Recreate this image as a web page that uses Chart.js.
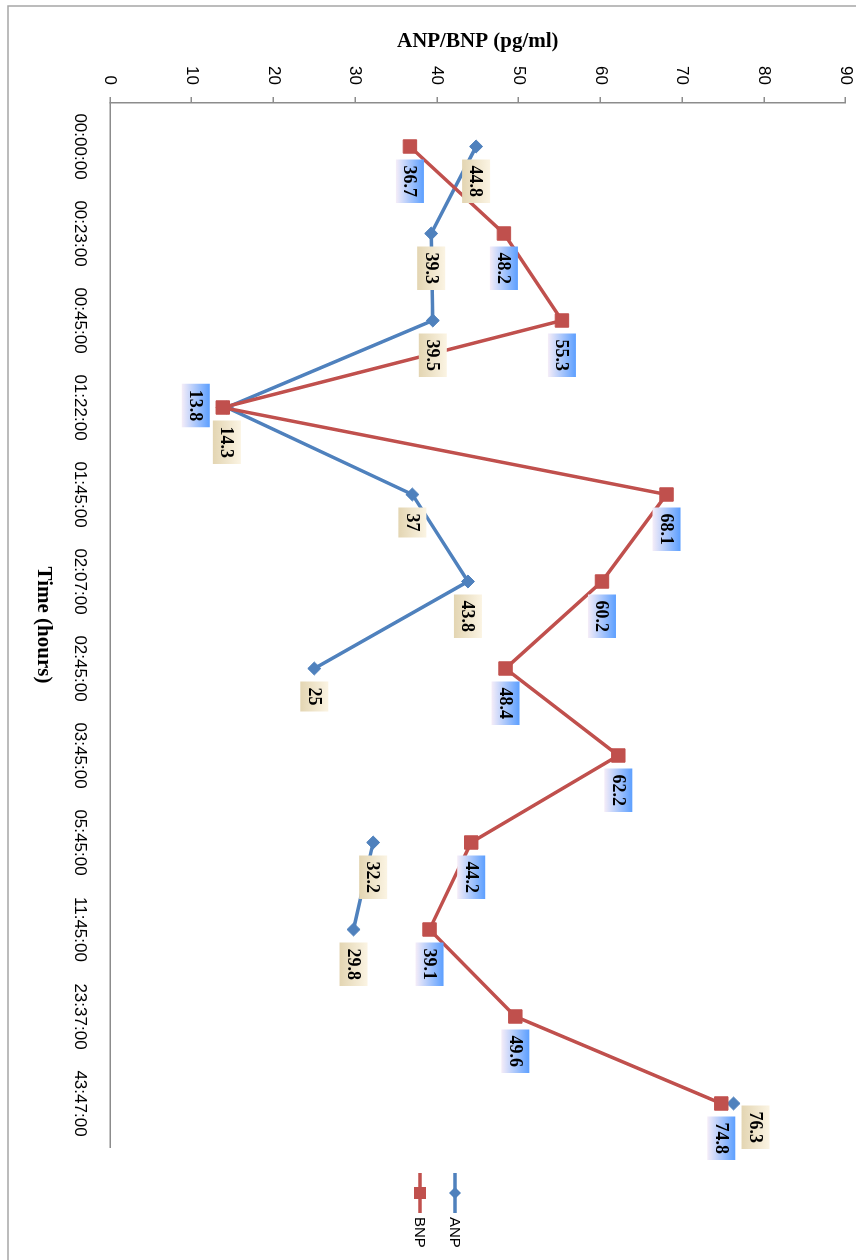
<!DOCTYPE html>
<html>
<head>
<meta charset="utf-8">
<script src="https://cdn.jsdelivr.net/npm/chart.js@4/dist/chart.umd.min.js"></script>
<style>
  html, body { margin: 0; padding: 0; background: #fff; overflow: hidden; }
  /* the chart is drawn landscape, then turned a quarter clockwise */
  #wrap { position: absolute; left: 0; top: 0; width: 1260px; height: 856px;
          transform-origin: 0 0; transform: translate(856px, 0) rotate(90deg); }
</style>
</head>
<body>
<div id="wrap"><canvas id="chart" width="1260" height="856"></canvas></div>
<script>
var times = ["00:00:00", "00:23:00", "00:45:00", "01:22:00", "01:45:00", "02:07:00",
             "02:45:00", "03:45:00", "05:45:00", "11:45:00", "23:37:00", "43:47:00"];
var anpValues = [44.8, 39.3, 39.5, 14.3, 37, 43.8, 25, null, 32.2, 29.8, null, 76.3];
var bnpValues = [36.7, 48.2, 55.3, 13.8, 68.1, 60.2, 48.4, 62.2, 44.2, 39.1, 49.6, 74.8];
var valueTicks = [0, 10, 20, 30, 40, 50, 60, 70, 80, 90];

var labelFill = {
    ANP: ["#fbf4e3", "#e3d5b2"],
    BNP: ["#5c9fff", "#f5edf8"]
};

var frameBorder = {
    id: "frameBorder",
    beforeDraw: function(chart) {
        var ctx = chart.ctx;
        ctx.save();
        ctx.fillStyle = "#ffffff";
        ctx.fillRect(0, 0, chart.width, chart.height);
        ctx.strokeStyle = "#a6a6a6";
        ctx.lineWidth = 1.5;
        ctx.beginPath();
        ctx.moveTo(6, 0);
        ctx.lineTo(6, 848);
        ctx.lineTo(chart.width, 848);
        ctx.stroke();
        ctx.restore();
    }
};

var valueLabels = {
    id: "valueLabels",
    afterDatasetsDraw: function(chart) {
        var ctx = chart.ctx;
        ctx.save();
        ctx.font = 'bold 18px "Liberation Serif"';
        ctx.textAlign = "center";
        ctx.textBaseline = "middle";
        chart.data.datasets.forEach(function(ds, i) {
            var meta = chart.getDatasetMeta(i);
            meta.data.forEach(function(pt, j) {
                var v = ds.data[j];
                if (v === null) return;
                var text = String(v);
                var w = ctx.measureText(text).width + 12;
                var h = 28;
                var bx = pt.x + 13;
                var by = pt.y - h / 2;
                // two labels were moved by hand in the original
                if (ds.label === "BNP" && j === 3) { bx = pt.x - w / 2 - 2; by = pt.y + 13; }
                if (ds.label === "ANP" && j === 11) { bx = pt.x + 2; by = pt.y - 22 - h / 2; }
                var g = ctx.createLinearGradient(0, by, 0, by + h);
                g.addColorStop(0, labelFill[ds.label][0]);
                g.addColorStop(1, labelFill[ds.label][1]);
                ctx.fillStyle = g;
                ctx.fillRect(bx, by, w, h);
                ctx.fillStyle = "#000";
                ctx.fillText(text, bx + w / 2, by + h / 2 + 1);
            });
        });
        ctx.restore();
    }
};

var legendBox = {
    id: "legendBox",
    afterDraw: function(chart) {
        var ctx = chart.ctx;
        var x0 = chart.chartArea.right + 26;
        chart.data.datasets.forEach(function(ds, i) {
            var y = 401 + i * 35;
            ctx.save();
            ctx.strokeStyle = ds.borderColor;
            ctx.lineWidth = 3.5;
            ctx.beginPath();
            ctx.moveTo(x0, y);
            ctx.lineTo(x0 + 40, y);
            ctx.stroke();
            ctx.fillStyle = ds.borderColor;
            ctx.beginPath();
            if (ds.pointStyle === "rect") {
                ctx.rect(x0 + 14, y - 6, 12, 12);
            } else {
                ctx.moveTo(x0 + 14, y);
                ctx.lineTo(x0 + 20, y - 6);
                ctx.lineTo(x0 + 26, y);
                ctx.lineTo(x0 + 20, y + 6);
                ctx.closePath();
            }
            ctx.fill();
            ctx.fillStyle = "#000";
            ctx.font = '15px "Liberation Sans"';
            ctx.textAlign = "left";
            ctx.textBaseline = "middle";
            ctx.fillText(ds.label, x0 + 44, y + 1);
            ctx.restore();
        });
    }
};

new Chart(document.getElementById("chart"), {
    type: "line",
    data: {
        labels: times,
        datasets: [
            {
            label: "ANP",
            data: anpValues,
            order: 1,
            borderColor: "#4f81bd",
            backgroundColor: "#4f81bd",
            borderWidth: 3.5,
            pointStyle: "rectRot",
            pointRadius: 6.5,
            pointBorderWidth: 1,
            tension: 0,
            spanGaps: false
            },
            {
            label: "BNP",
            data: bnpValues,
            order: 0,
            borderColor: "#c0504d",
            backgroundColor: "#c0504d",
            borderWidth: 3.5,
            pointStyle: "rect",
            pointRadius: 9.5,
            pointBorderWidth: 1,
            tension: 0
            }
        ]
    },
    options: {
        responsive: false,
        animation: false,
        devicePixelRatio: 1,
        layout: { padding: { left: 0, top: 9, right: 113, bottom: 0 } },
        plugins: {
            legend: { display: false },
            tooltip: { enabled: false }
        },
        scales: {
            x: {
                offset: true,
                grid: { display: false, drawTicks: false },
                border: { display: true, color: "#8c8c8c", width: 1.5 },
                ticks: {
                    font: { family: "Liberation Sans", size: 17 },
                    color: "#000",
                    padding: 20,
                    maxRotation: 0,
                    autoSkip: false
                },
                title: {
                    display: true,
                    text: "Time (hours)",
                    font: { family: "Liberation Serif", size: 21, weight: "bold", lineHeight: 1.2 },
                    color: "#000",
                    padding: { top: 0, bottom: 31 }
                },
                afterFit: function(scale) {
                    scale.height = 110;
                    scale.paddingLeft = 0;
                    scale.paddingRight = 0;
                }
            },
            y: {
                min: 0,
                max: 90,
                afterBuildTicks: function(scale) {
                    scale.ticks = valueTicks.map(function(v) { return { value: v }; });
                },
                grid: {
                    display: true,
                    drawOnChartArea: false,
                    drawTicks: true,
                    tickLength: 6,
                    color: "#8c8c8c",
                    lineWidth: 1.5
                },
                border: { display: true, color: "#8c8c8c", width: 1.5 },
                ticks: {
                    font: { family: "Liberation Sans", size: 17 },
                    color: "#000",
                    padding: 12
                },
                title: {
                    display: true,
                    text: "ANP/BNP (pg/ml)",
                    font: { family: "Liberation Serif", size: 21, weight: "bold", lineHeight: 1.2 },
                    color: "#000",
                    padding: { top: 29, bottom: 0 }
                },
                afterFit: function(scale) {
                    scale.width = 103;
                    scale.paddingTop = 0;
                    scale.paddingBottom = 0;
                }
            }
        }
    },
    plugins: [frameBorder, valueLabels, legendBox]
});
</script>
</body>
</html>
